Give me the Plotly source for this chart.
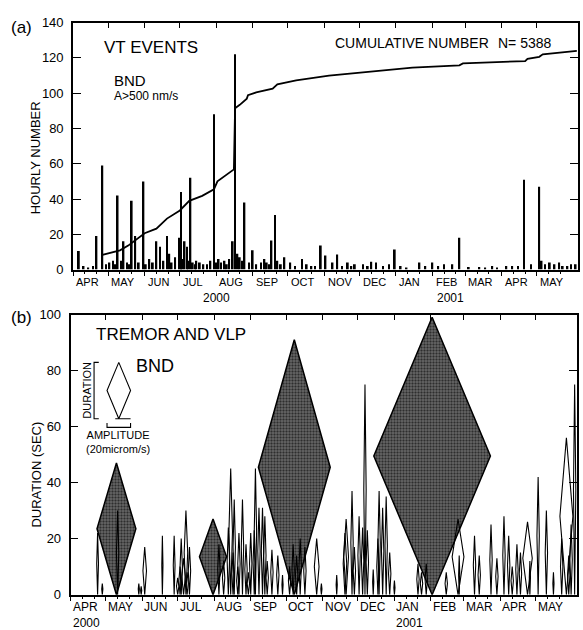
import plotly.graph_objects as go
import pandas as pd

W, H = 583, 630

# ---------------- Panel (a): VT events ----------------
vt_dates = [
    "2000-04-06", "2000-04-21", "2000-04-26", "2000-05-09", "2000-05-14", "2000-05-21",
    "2000-05-24", "2000-05-31", "2000-06-11", "2000-06-14", "2000-06-20", "2000-07-01",
    "2000-07-02", "2000-07-05", "2000-07-07", "2000-07-10", "2000-07-30", "2000-08-15",
    "2000-08-17", "2000-08-25", "2000-09-01", "2000-09-11", "2000-09-17", "2000-09-20",
    "2000-09-28", "2000-10-13", "2000-10-29", "2000-11-02", "2000-11-12", "2000-12-31",
    "2001-02-24", "2001-04-20", "2001-05-03",
    # smaller hourly counts
    "2000-05-05", "2000-06-05", "2000-06-22", "2000-06-27", "2000-07-15", "2000-07-24",
    "2000-08-05", "2000-08-12", "2000-08-21", "2000-09-13", "2000-09-22", "2000-10-03",
    "2000-10-21", "2000-11-08", "2000-11-21", "2000-11-27", "2000-12-04", "2000-12-11",
    "2000-12-15", "2001-01-05", "2001-01-21", "2001-02-01", "2001-02-11", "2001-02-18",
    "2001-03-04", "2001-03-13", "2001-03-24", "2001-04-05", "2001-04-15", "2001-05-05",
    "2001-05-12", "2001-05-16", "2001-05-20", "2001-05-27", "2001-06-03",
    "2000-04-10", "2000-04-14", "2000-04-18", "2000-04-29", "2000-05-02", "2000-05-07",
    "2000-05-12", "2000-05-17", "2000-05-19", "2000-05-27", "2000-06-02", "2000-06-08",
    "2000-06-17", "2000-06-24", "2000-07-03", "2000-07-08", "2000-07-12", "2000-07-14",
    "2000-07-18", "2000-07-21", "2000-07-27", "2000-08-01", "2000-08-03", "2000-08-08",
    "2000-08-10", "2000-08-19", "2000-08-23", "2000-08-29", "2000-09-04", "2000-09-08",
    "2000-09-15", "2000-09-25", "2000-10-07", "2000-10-17", "2000-10-24", "2000-11-16",
    "2000-11-24", "2000-12-08", "2000-12-21", "2000-12-26", "2001-01-10", "2001-01-26",
    "2001-02-06", "2001-03-18", "2001-03-28", "2001-04-10", "2001-04-26", "2001-05-08",
    "2001-05-23", "2001-05-30",
]
vt_counts = [
    10.5, 19, 59, 42, 16, 39,
    19, 50, 16, 13, 19, 18,
    44, 16, 13, 52, 88, 16,
    122, 38, 11, 6, 16.5, 31,
    7, 6, 13.6, 8, 8.6, 11.4,
    18, 51, 47,
    5, 6, 9, 7, 5, 3,
    4, 6, 7, 4, 5, 4,
    2, 4, 4, 3, 3, 4.5,
    4, 2, 4, 4, 3, 3,
    1.5, 1.5, 2, 2, 2, 5,
    4, 3, 4, 2, 3,
    2, 1, 2, 3, 4, 3,
    5, 4, 3, 4, 3, 4,
    5, 4, 6, 5, 4, 3,
    4, 3, 5, 4, 6, 5,
    3, 9, 5, 4, 3, 4,
    3, 3, 2, 3, 2, 2,
    2, 2, 2, 3, 1, 2,
    2, 1, 1, 2, 3, 3,
    2, 3,
]

cum_dates = [
    "2000-04-26", "2000-05-11", "2000-05-18", "2000-05-25", "2000-06-01", "2000-06-11",
    "2000-06-20", "2000-07-01", "2000-07-09", "2000-07-20", "2000-07-30", "2000-08-02",
    "2000-08-14", "2000-08-16", "2000-08-17", "2000-08-21", "2000-08-27", "2000-08-28",
    "2000-09-04", "2000-09-18", "2000-09-22", "2000-10-08", "2000-11-05", "2000-12-18",
    "2001-01-15", "2001-02-24", "2001-02-27", "2001-04-21", "2001-04-23", "2001-05-03",
    "2001-05-06", "2001-06-04",
]
cum_values = [
    8.3, 10.9, 13.6, 17, 20.6, 23.2,
    28.9, 33.5, 39, 41.8, 45.5, 50,
    55.6, 56.8, 91.5, 93.4, 96.9, 98.9,
    100.4, 102.6, 105, 107.2, 110, 112.7,
    114.5, 115.8, 116.9, 118.2, 119.5, 120.6,
    122, 124,
]

# ---------------- Panel (b): tremor and VLP ----------------
# large events: date, duration (s), amplitude (microm/s)
big_dates = ["2000-05-10", "2000-07-31", "2000-10-08", "2001-02-02"]
big_dur = [47, 27, 91, 99]
big_amp = [33, 23, 61, 99]

small_dates = [
    "2000-04-24", "2000-04-28", "2000-05-11", "2000-05-29", "2000-05-31", "2000-06-03",
    "2000-06-18", "2000-06-28", "2000-07-01", "2000-07-03", "2000-07-04", "2000-07-06",
    "2000-07-08", "2000-07-09", "2000-07-11", "2000-08-05", "2000-08-09", "2000-08-13",
    "2000-08-15", "2000-08-17", "2000-08-18", "2000-08-21", "2000-08-22", "2000-08-25",
    "2000-08-28", "2000-08-30", "2000-09-01", "2000-09-04", "2000-09-05", "2000-09-08",
    "2000-09-11", "2000-09-13", "2000-09-15", "2000-09-19", "2000-09-24", "2000-09-28",
    "2000-10-04", "2000-10-07", "2000-10-10", "2000-10-13", "2000-10-17", "2000-10-27",
    "2000-10-31", "2000-11-13", "2000-11-20", "2000-11-21", "2000-11-26", "2000-11-28",
    "2000-12-02", "2000-12-05", "2000-12-07", "2000-12-09", "2000-12-14", "2000-12-18",
    "2000-12-19", "2000-12-22", "2000-12-25", "2000-12-28", "2001-01-01", "2001-01-21",
    "2001-01-24", "2001-01-28", "2001-02-14", "2001-02-24", "2001-02-25", "2001-03-10",
    "2001-03-14", "2001-03-24", "2001-03-29", "2001-04-04", "2001-04-08", "2001-04-11",
    "2001-04-15", "2001-04-18", "2001-04-24", "2001-04-26", "2001-05-03", "2001-05-10",
    "2001-05-16", "2001-05-23", "2001-05-27", "2001-05-29", "2001-05-31", "2001-06-03",
]
small_dur = [
    22, 4, 30, 4, 3, 17,
    21, 21, 6, 10, 20, 13,
    30, 8, 17, 18, 12, 24,
    45, 15, 34, 10, 22, 34,
    18, 8, 22, 23, 45, 31,
    31, 28, 12, 16, 14, 7,
    10, 18, 14, 20, 17, 20,
    4, 7, 22, 27, 37, 17,
    28, 24, 75, 23, 9, 20,
    37, 31, 35, 15, 5, 11,
    8, 11, 8, 27, 14, 21,
    14, 25, 13, 28, 21, 10,
    18, 15, 26, 12, 42, 30,
    8, 20, 56, 14, 25, 75,
]
small_amp = [
    1.5, 1, 2, 1, 1, 3,
    1, 1.5, 2, 2, 2, 3,
    3, 2, 2, 2, 2, 2,
    3, 2, 2, 2, 2, 2,
    2, 2, 2, 2, 2, 2,
    2, 2, 2, 2, 2, 1,
    2, 2, 2, 2, 2, 4,
    1, 1, 3, 4, 2, 2,
    2, 2, 2, 2, 1, 2,
    2, 2, 2, 2, 1, 2,
    2, 2, 2, 10, 1, 2,
    2, 2, 2, 2, 2, 2,
    2, 2, 8, 1, 2, 2,
    1, 2, 11, 2, 2, 2,
]

# legend key (scale glyph)
key_date = "2000-05-12"
key_base = 62.8
key_dur = 20.1
key_amp = 20

AMP_DAYS = 1.0  # days of time axis per microm/s of amplitude

months = ["APR", "MAY", "JUN", "JUL", "AUG", "SEP", "OCT", "NOV", "DEC",
          "JAN", "FEB", "MAR", "APR", "MAY"]
years_b = {0: "2000", 9: "2001"}
month_starts = pd.date_range("2000-04-01", periods=14, freq="MS")
XR = ["2000-04-01", "2001-06-05"]

FONT = "Liberation Sans, Arial, Helvetica, sans-serif"


def diamonds(dates, durs, amps, base=0.0):
    xs, ys = [], []
    for d, h, a in zip(dates, durs, amps):
        t = pd.Timestamp(d)
        half = pd.Timedelta(days=a * AMP_DAYS / 2.0)
        for tt, yy in [(t, base), (t + half, base + h / 2.0), (t, base + h),
                       (t - half, base + h / 2.0), (t, base)]:
            xs.append(tt.isoformat())
            ys.append(yy)
        xs.append(None)
        ys.append(None)
    return xs, ys


fig = go.Figure()

# Panel (a) traces
fig.add_trace(go.Bar(x=vt_dates, y=vt_counts, width=1.5 * 86400000,
                     marker=dict(color="black", line=dict(width=0)),
                     xaxis="x", yaxis="y", hoverinfo="skip"))
fig.add_trace(go.Scatter(x=cum_dates, y=cum_values, mode="lines",
                         line=dict(color="black", width=1.8),
                         xaxis="x", yaxis="y", hoverinfo="skip"))

# Panel (b) traces
bx, by = diamonds(big_dates, big_dur, big_amp)
fig.add_trace(go.Scatter(x=bx, y=by, mode="lines", fill="toself",
                         fillcolor="#2e2e2e",
                         fillpattern=dict(shape="+", fgcolor="#c8c8c8", bgcolor="#2e2e2e",
                                          size=3, solidity=0.22, fillmode="replace"),
                         line=dict(color="black", width=1.5),
                         xaxis="x2", yaxis="y2", hoverinfo="skip"))
sx, sy = diamonds(small_dates, small_dur, small_amp)
fig.add_trace(go.Scatter(x=sx, y=sy, mode="lines",
                         line=dict(color="black", width=1.1),
                         xaxis="x2", yaxis="y2", hoverinfo="skip"))
kx, ky = diamonds([key_date], [key_dur], [key_amp], base=key_base)
fig.add_trace(go.Scatter(x=kx, y=ky, mode="lines",
                         line=dict(color="black", width=1.1),
                         xaxis="x2", yaxis="y2", hoverinfo="skip"))
# key brackets
kt = pd.Timestamp(key_date)
kh = pd.Timedelta(days=key_amp * AMP_DAYS / 2.0)
bt = kt - pd.Timedelta(days=21)
bracket_x = [(bt + pd.Timedelta(days=4)).isoformat(), bt.isoformat(), bt.isoformat(),
             (bt + pd.Timedelta(days=4)).isoformat(), None,
             (kt - kh).isoformat(), (kt - kh).isoformat(), (kt + kh).isoformat(),
             (kt + kh).isoformat(), None,
             (kt - pd.Timedelta(days=3)).isoformat(), (kt + kh).isoformat()]
bracket_y = [key_base + key_dur, key_base + key_dur, key_base, key_base, None,
             key_base - 1.5, key_base - 3.1, key_base - 3.1, key_base - 1.5, None,
             key_base, key_base]
fig.add_trace(go.Scatter(x=bracket_x, y=bracket_y, mode="lines",
                         line=dict(color="black", width=1.1),
                         xaxis="x2", yaxis="y2", hoverinfo="skip"))

# empty traces so that the top tick axes are drawn
fig.add_trace(go.Scatter(x=[], y=[], xaxis="x3", yaxis="y", hoverinfo="skip"))
fig.add_trace(go.Scatter(x=[], y=[], xaxis="x4", yaxis="y2", hoverinfo="skip"))

minor_vals = []
for m in month_starts:
    minor_vals += [m + pd.Timedelta(days=10), m + pd.Timedelta(days=20)]

def xbottom(domain, anchor):
    return dict(type="date", range=XR, domain=domain, anchor=anchor,
                showline=True, linecolor="black", linewidth=1.6, mirror=True,
                showgrid=False, zeroline=False,
                tickmode="array", tickvals=list(month_starts), ticks="outside",
                ticklen=5, tickwidth=1.3, tickcolor="black", showticklabels=False,
                minor=dict(tickmode="array", tickvals=minor_vals, ticks="outside",
                           ticklen=3, tickwidth=1, tickcolor="black"))

def xtop(over, anchor):
    return dict(type="date", range=XR, overlaying=over, matches=over, anchor=anchor,
                side="top", showline=False, showgrid=False, zeroline=False,
                tickmode="array", tickvals=list(month_starts), ticks="inside",
                ticklen=5, tickwidth=1.3, tickcolor="black", showticklabels=False)

def yax(domain, anchor, rng, vals):
    return dict(range=rng, domain=domain, anchor=anchor, showline=True,
                linecolor="black", linewidth=1.6, mirror="ticks", showgrid=False,
                zeroline=False, tickmode="array", tickvals=vals, ticks="inside",
                ticklen=8, tickwidth=1.3, tickcolor="black",
                tickfont=dict(size=13, color="black", family=FONT), ticklabelstandoff=5)

fig.update_layout(
    width=W, height=H, autosize=False,
    margin=dict(l=0, r=0, t=0, b=0),
    paper_bgcolor="white", plot_bgcolor="white",
    showlegend=False,
    font=dict(family=FONT, color="black"),
    xaxis=xbottom([73 / W, 578 / W], "y"),
    yaxis=yax([1 - 269 / H, 1 - 16 / H], "x", [0, 140], list(range(0, 141, 20))),
    xaxis3=xtop("x", "y"),
    xaxis2=xbottom([70.5 / W, 577 / W], "y2"),
    yaxis2=yax([1 - 602 / H, 1 - 315 / H], "x2", [0, 100], list(range(0, 101, 20))),
    xaxis4=xtop("x2", "y2"),
)

anns = []

def ann(text, px, py, size, xanchor="left", angle=0):
    anns.append(dict(text=text, x=px / W, y=1 - py / H, xref="paper", yref="paper",
                     xanchor=xanchor, yanchor="middle", showarrow=False,
                     textangle=angle, font=dict(size=size, color="black", family=FONT)))

# panel (a) texts
ann("(a)", 9, 21, 17)
ann("VT EVENTS", 102, 42, 17)
ann("BND", 112, 75, 15)
ann("A>500 nm/s", 112, 91, 12)
ann("CUMULATIVE NUMBER", 333, 37, 14)
ann("N= 5388", 496, 37, 14)
ann("HOURLY NUMBER", 35, 155, 13, xanchor="center", angle=-90)
ann("2000", 216, 298, 12, xanchor="center")
ann("2001", 450, 298, 12, xanchor="center")

# panel (b) texts
ann("(b)", 9, 318, 17)
ann("TREMOR AND VLP", 94, 335, 17)
ann("BND", 134, 368, 18)
ann("DURATION", 87, 393, 11, xanchor="center", angle=-90)
ann("AMPLITUDE<br>(20microm/s)", 118, 446, 11, xanchor="center")
ann("DURATION (SEC)", 37, 479, 13, xanchor="center", angle=-90)

for i, (m, lab) in enumerate(zip(month_starts, months)):
    xd = (m + pd.Timedelta(days=1)).isoformat()
    anns.append(dict(text=lab, x=xd, y=1 - 282 / H, xref="x", yref="paper",
                     xanchor="left", yanchor="middle", showarrow=False,
                     font=dict(size=11, color="black", family=FONT)))
    txt = lab + ("<br>" + years_b[i] if i in years_b else "")
    anns.append(dict(text=txt, x=m.isoformat(), y=1 - 605 / H, xref="x2", yref="paper",
                     xanchor="left", yanchor="top", align="left", showarrow=False,
                     font=dict(size=12, color="black", family=FONT)))

fig.update_layout(annotations=anns)
fig.write_html("out.html")
